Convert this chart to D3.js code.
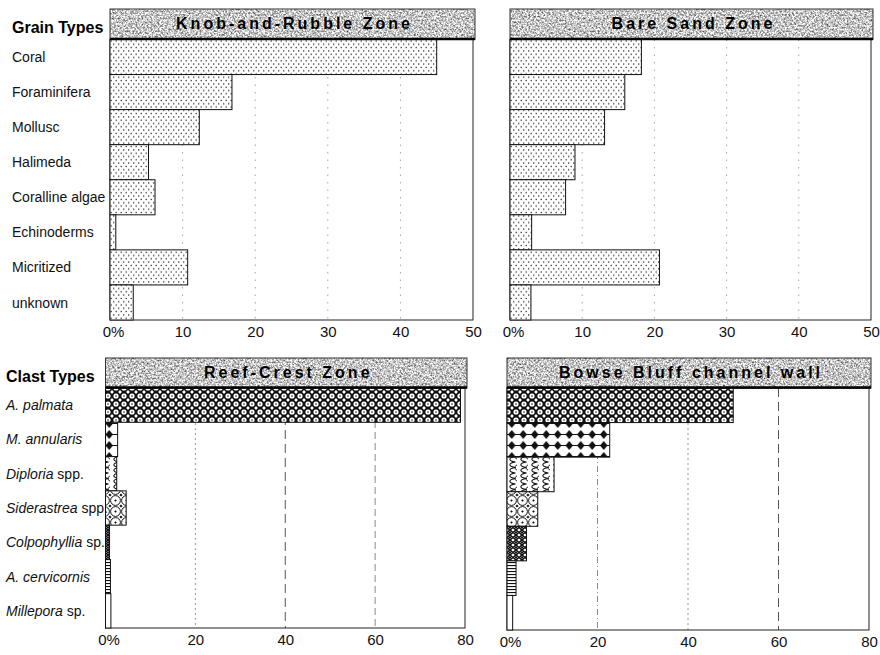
<!DOCTYPE html>
<html>
<head>
<meta charset="utf-8">
<script src="https://cdn.jsdelivr.net/npm/d3@7"></script>
<style>
  html, body { margin: 0; padding: 0; background: #fff; }
  svg { display: block; font-family: "Liberation Sans", Arial, Helvetica, sans-serif; }
</style>
</head>
<body>
<svg id="chart" width="880" height="655"></svg>
<script>
// ---- data ----
const grainTypes = ["Coral", "Foraminifera", "Mollusc", "Halimeda", "Coralline algae", "Echinoderms", "Micritized", "unknown"];
const knobAndRubble = [45.0, 16.8, 12.3, 5.3, 6.2, 0.8, 10.7, 3.2];
const bareSand = [18.2, 15.9, 13.1, 9.0, 7.7, 3.0, 20.7, 2.9];

const clastGenus = ["A. palmata", "M. annularis", "Diploria", "Siderastrea", "Colpophyllia", "A. cervicornis", "Millepora"];
const clastSuffix = ["", "", " spp.", " spp.", " sp.", "", " sp."];
const reefCrest = [79.0, 2.7, 2.5, 4.6, 0.9, 1.1, 1.2];
const bowseBluff = [50.0, 22.7, 10.4, 6.8, 4.3, 2.0, 1.25];

const grainTicks = [0, 10, 20, 30, 40, 50];
const clastTicks = [0, 20, 40, 60, 80];

// ---- svg & fills ----
const svg = d3.select("#chart");
const defs = svg.append("defs");

// grainy halftone fill for the zone headers
const grain = defs.append("filter").attr("id", "grain")
  .attr("x", 0).attr("y", 0).attr("width", 1).attr("height", 1)
  .attr("color-interpolation-filters", "sRGB");
grain.append("feTurbulence").attr("type", "fractalNoise")
  .attr("baseFrequency", "0.55").attr("numOctaves", 3).attr("seed", 7);
grain.append("feColorMatrix").attr("type", "matrix")
  .attr("values", "1.35 0 0 0 0.1  1.35 0 0 0 0.1  1.35 0 0 0 0.1  0 0 0 0 1");

function pattern(id, w, h, draw) {
  const p = defs.append("pattern").attr("id", id)
    .attr("patternUnits", "userSpaceOnUse").attr("width", w).attr("height", h);
  p.append("rect").attr("width", w).attr("height", h).attr("fill", "#fff");
  draw(p);
}
const diamond = (cx, cy, rx, ry) => `M${cx},${cy - ry}L${cx + rx},${cy}L${cx},${cy + ry}L${cx - rx},${cy}Z`;

pattern("stipple", 5, 6.6, p => {
  p.append("rect").attr("x", 0.6).attr("y", 0.8).attr("width", 1.2).attr("height", 1.2).attr("fill", "#111");
  p.append("rect").attr("x", 3.1).attr("y", 4.1).attr("width", 1.2).attr("height", 1.2).attr("fill", "#111");
});
pattern("palmata", 8, 8, p => {
  p.append("rect").attr("width", 8).attr("height", 8).attr("fill", "#111");
  p.append("circle").attr("cx", 4).attr("cy", 4).attr("r", 2.6).attr("fill", "#fff");
  p.append("circle").attr("cx", 4).attr("cy", 4).attr("r", 0.8).attr("fill", "#111");
  [[0, 0], [8, 0], [0, 8], [8, 8]].forEach(([x, y]) =>
    p.append("path").attr("d", diamond(x, y, 1.9, 1.9)).attr("fill", "#fff"));
});
pattern("annularis", 11.5, 11, p => {
  p.append("line").attr("x1", 0).attr("x2", 11.5).attr("y1", 5.5).attr("y2", 5.5).attr("stroke", "#111").attr("stroke-width", 1);
  p.append("path").attr("d", diamond(5.75, 5.5, 3.8, 4.4)).attr("fill", "#111");
});
pattern("diploria", 11, 11, p => {
  p.append("path").attr("d", "M9.5,0C2,1 2,4.5 9.5,5.5C2,6.5 2,10 9.5,11")
    .attr("fill", "none").attr("stroke", "#111").attr("stroke-width", 1.1);
  p.append("path").attr("d", "M11,3C8.5,3.5 8.5,7.5 11,8")
    .attr("fill", "none").attr("stroke", "#111").attr("stroke-width", 1);
});
pattern("siderastrea", 11, 11, p => {
  p.append("circle").attr("cx", 5.5).attr("cy", 5.5).attr("r", 4.9)
    .attr("fill", "none").attr("stroke", "#111").attr("stroke-width", 1);
  p.append("path").attr("d", diamond(5.5, 5.5, 1.3, 1.3)).attr("fill", "#111");
  [[0, 0], [11, 0], [0, 11], [11, 11]].forEach(([x, y]) =>
    p.append("path").attr("d", diamond(x, y, 1.6, 1.6)).attr("fill", "#111"));
});
pattern("colpophyllia", 6, 5, p => {
  p.append("path").attr("d", "M0,0L3,2.5L6,0M0,5L3,2.5L6,5M0,2.5H1.2M4.8,2.5H6")
    .attr("fill", "none").attr("stroke", "#111").attr("stroke-width", 1.5);
});
pattern("cervicornis", 4, 3, p => {
  p.append("rect").attr("x", 0).attr("y", 1).attr("width", 4).attr("height", 1.1).attr("fill", "#111");
});
pattern("millepora", 4, 4, () => {});

const clastFills = ["palmata", "annularis", "diploria", "siderastrea", "colpophyllia", "cervicornis", "millepora"];

// ---- one panel: header band, frame, grid, bars, axis ----
function drawPanel(o) {
  const x = d3.scaleLinear().domain([0, o.max]).range([o.x0, o.x1]);
  const y = d3.scaleBand().domain(d3.range(o.values.length)).range([o.yTop, o.yBottom]).paddingInner(0);
  const g = svg.append("g");

  // grid lines
  g.selectAll("line.grid").data(o.grid).join("line")
    .attr("x1", d => x(d.v)).attr("x2", d => x(d.v))
    .attr("y1", o.yTop).attr("y2", o.yBottom)
    .attr("stroke", d => d.color).attr("stroke-width", 1)
    .attr("stroke-dasharray", d => d.dash);

  // frame
  g.append("rect").attr("x", o.x0).attr("y", o.yTop)
    .attr("width", o.x1 - o.x0).attr("height", o.yBottom - o.yTop)
    .attr("fill", "none").attr("stroke", "#222").attr("stroke-width", 1);

  // bars
  g.selectAll("rect.bar").data(o.values).join("rect")
    .attr("x", x(0)).attr("y", (d, i) => y(i))
    .attr("width", d => x(d) - x(0)).attr("height", y.bandwidth())
    .attr("fill", (d, i) => `url(#${o.fills[i]})`)
    .attr("stroke", "#111").attr("stroke-width", 1);

  // header band
  const h = g.append("g");
  h.append("rect").attr("x", o.x0).attr("y", o.headerTop)
    .attr("width", o.x1 - o.x0 + 2).attr("height", o.yTop - o.headerTop)
    .attr("fill", "#bbb").attr("filter", "url(#grain)");
  h.append("rect").attr("x", o.x0).attr("y", o.headerTop)
    .attr("width", o.x1 - o.x0 + 2).attr("height", o.yTop - o.headerTop)
    .attr("fill", "none").attr("stroke", "#333").attr("stroke-width", 1);
  h.append("line").attr("x1", o.x0).attr("x2", o.x1 + 2)
    .attr("y1", o.yTop - 0.5).attr("y2", o.yTop - 0.5)
    .attr("stroke", "#000").attr("stroke-width", 2.5);
  h.append("text").attr("x", (o.x0 + o.x1) / 2 + 3).attr("y", o.headerTop + 20)
    .attr("text-anchor", "middle").attr("font-weight", "bold")
    .attr("font-size", 16).attr("letter-spacing", 3).attr("fill", "#000")
    .text(o.title);

  // x axis
  const axis = d3.axisBottom(x).tickValues(o.ticks).tickSize(0).tickPadding(6)
    .tickFormat(d => d === 0 ? "0%" : d);
  const ax = g.append("g").attr("transform", `translate(0,${o.yBottom})`).call(axis);
  ax.select(".domain").remove();
  ax.selectAll("text").attr("font-size", 15).attr("fill", "#111")
    .attr("font-family", "\"Liberation Sans\", Arial, sans-serif");
  ax.selectAll(".tick").filter(d => d === 0).select("text").attr("dx", 3);

  // category labels
  if (o.labels) {
    g.append("text").attr("x", o.labelX).attr("y", o.headerTop + 24)
      .attr("font-weight", "bold").attr("font-size", 16).attr("fill", "#000")
      .text(o.heading);
    const lab = g.selectAll("text.cat").data(o.labels).join("text")
      .attr("x", o.labelX).attr("y", (d, i) => y(i) + y.bandwidth() / 2)
      .attr("dy", "0.36em").attr("font-size", 14).attr("fill", "#111");
    lab.each(function (d) {
      const t = d3.select(this);
      t.append("tspan").attr("font-style", d.italic ? "italic" : "normal").text(d.main);
      if (d.suffix) t.append("tspan").text(d.suffix);
    });
  }
}

const grainGrid = [10, 20, 30, 40].map(v => ({ v, color: "#a5a5a5", dash: "1.5,6" }));
const clastGrid = [
  { v: 20, color: "#9a9a9a", dash: "2,3" },
  { v: 40, color: "#555", dash: "9,5" },
  { v: 60, color: "#888", dash: "7,4" }
];
const clastGrid2 = [
  { v: 20, color: "#888", dash: "6,3,1,3" },
  { v: 40, color: "#9a9a9a", dash: "2,3" },
  { v: 60, color: "#555", dash: "9,5" }
];

drawPanel({
  x0: 110, x1: 473, headerTop: 9, yTop: 39.5, yBottom: 320, max: 50,
  title: "Knob-and-Rubble Zone", values: knobAndRubble,
  fills: knobAndRubble.map(() => "stipple"), ticks: grainTicks, grid: grainGrid,
  heading: "Grain Types", labelX: 12,
  labels: grainTypes.map(t => ({ main: t, italic: false }))
});
drawPanel({
  x0: 510, x1: 871, headerTop: 9, yTop: 39.5, yBottom: 320, max: 50,
  title: "Bare Sand Zone", values: bareSand,
  fills: bareSand.map(() => "stipple"), ticks: grainTicks, grid: grainGrid
});
drawPanel({
  x0: 105.5, x1: 465, headerTop: 358, yTop: 388, yBottom: 628, max: 80,
  title: "Reef-Crest Zone", values: reefCrest,
  fills: clastFills, ticks: clastTicks, grid: clastGrid,
  heading: "Clast Types", labelX: 6,
  labels: clastGenus.map((t, i) => ({ main: t, italic: true, suffix: clastSuffix[i] }))
});
drawPanel({
  x0: 507, x1: 869, headerTop: 358, yTop: 388, yBottom: 630, max: 80,
  title: "Bowse Bluff channel wall", values: bowseBluff,
  fills: clastFills, ticks: clastTicks, grid: clastGrid2
});
</script>
</body>
</html>
